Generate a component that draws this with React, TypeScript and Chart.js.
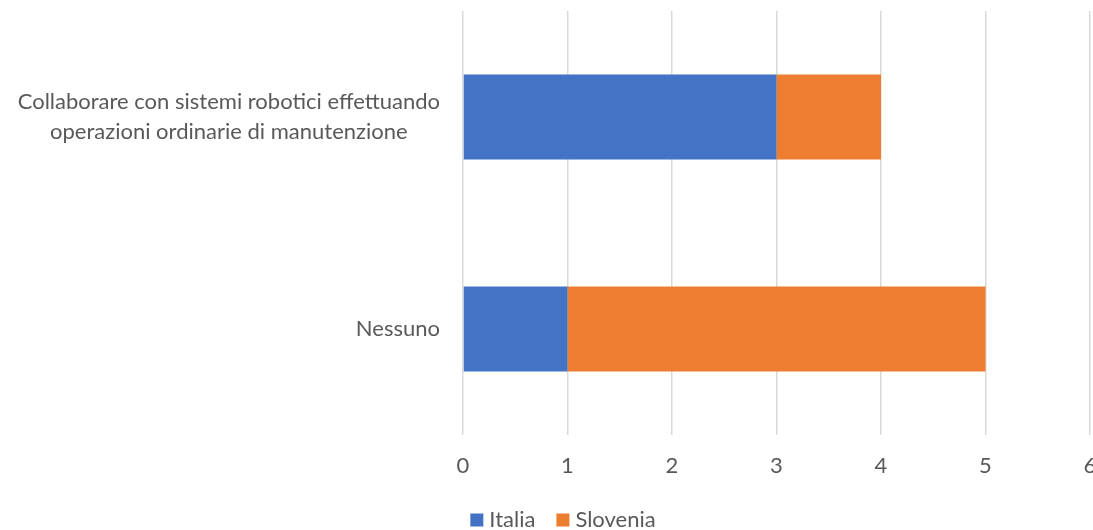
import React, { useEffect, useRef } from "react";
import { Chart, registerables } from "chart.js";
Chart.register(...registerables);

const categories: string[][] = [
  ["Collaborare con sistemi robotici effettuando", "operazioni ordinarie di manutenzione"],
  ["Nessuno"],
];
const seriesNames = ["Italia", "Slovenia"];
const seriesColors = ["#4472C4", "#ED7D31"];
const italia = [3, 1];
const slovenia = [1, 4];
const xMin = 0;
const xMax = 6;

const FONT = "Lato, 'Open Sans', sans-serif";
const FS = 22;
const TEXT = "#595959";

const catLabelPlugin = {
  id: "catLabels",
  afterDraw(chart: any) {
    const ctx = chart.ctx;
    const y = chart.scales.y;
    const area = chart.chartArea;
    ctx.save();
    ctx.font = `${FS}px ${FONT}`;
    ctx.fillStyle = TEXT;
    ctx.textBaseline = "middle";
    ctx.textAlign = "center";
    const lh = 30;
    categories.forEach((lines, i) => {
      const w = Math.max(...lines.map((l) => ctx.measureText(l).width));
      const right = area.left - 23;
      const cx = right - w / 2;
      const yc = y.getPixelForValue(i);
      lines.forEach((l, j) => ctx.fillText(l, cx, yc + (j - (lines.length - 1) / 2) * lh));
    });

    // legend
    const box = 13;
    const gap = 6;
    const spacing = 21;
    const widths = seriesNames.map((n) => box + gap + ctx.measureText(n).width);
    const total = widths.reduce((a, b) => a + b, 0) + spacing * (seriesNames.length - 1);
    let x = 563 - total / 2;
    const ly = area.bottom + 85;
    ctx.textAlign = "left";
    seriesNames.forEach((n, i) => {
      ctx.fillStyle = seriesColors[i];
      ctx.fillRect(x, ly - box / 2, box, box);
      ctx.fillStyle = TEXT;
      ctx.fillText(n, x + box + gap, ly);
      x += widths[i] + spacing;
    });
    ctx.restore();
  },
};

export default function App() {
  const ref = useRef<HTMLCanvasElement>(null);
  useEffect(() => {
    document.body.style.margin = "0";
    document.body.style.overflow = "hidden";
    const chart = new Chart(ref.current!, {
      type: "bar",
      data: {
        labels: categories.map((c) => c.join(" ")),
        datasets: [
          { label: seriesNames[0], data: italia, backgroundColor: seriesColors[0], barPercentage: 0.4, categoryPercentage: 1 },
          { label: seriesNames[1], data: slovenia, backgroundColor: seriesColors[1], barPercentage: 0.4, categoryPercentage: 1 },
        ],
      },
      options: {
        indexAxis: "y",
        animation: false,
        responsive: false,
        layout: { padding: { top: 11, right: 40, left: 0, bottom: 50 } },
        scales: {
          x: {
            stacked: true,
            min: xMin,
            max: xMax,
            ticks: { stepSize: 1, color: TEXT, font: { family: FONT, size: FS }, padding: 18 },
            grid: { color: "#D9D9D9", lineWidth: 1.5, drawTicks: false },
            border: { display: false },
            afterFit: (s: any) => {
              s.height = 45;
            },
          },
          y: {
            stacked: true,
            ticks: { display: false },
            grid: { display: false },
            border: { display: false },
            afterFit: (s: any) => {
              s.width = 463;
            },
          },
        },
        plugins: {
          legend: { display: false },
          tooltip: { enabled: false },
        },
      },
      plugins: [catLabelPlugin],
    });
    return () => chart.destroy();
  }, []);
  return (
    <div style={{ position: "absolute", left: 0, top: 0, width: 1130, height: 530 }}>
      <canvas ref={ref} width={1130} height={530} style={{ display: "block" }} />
    </div>
  );
}
